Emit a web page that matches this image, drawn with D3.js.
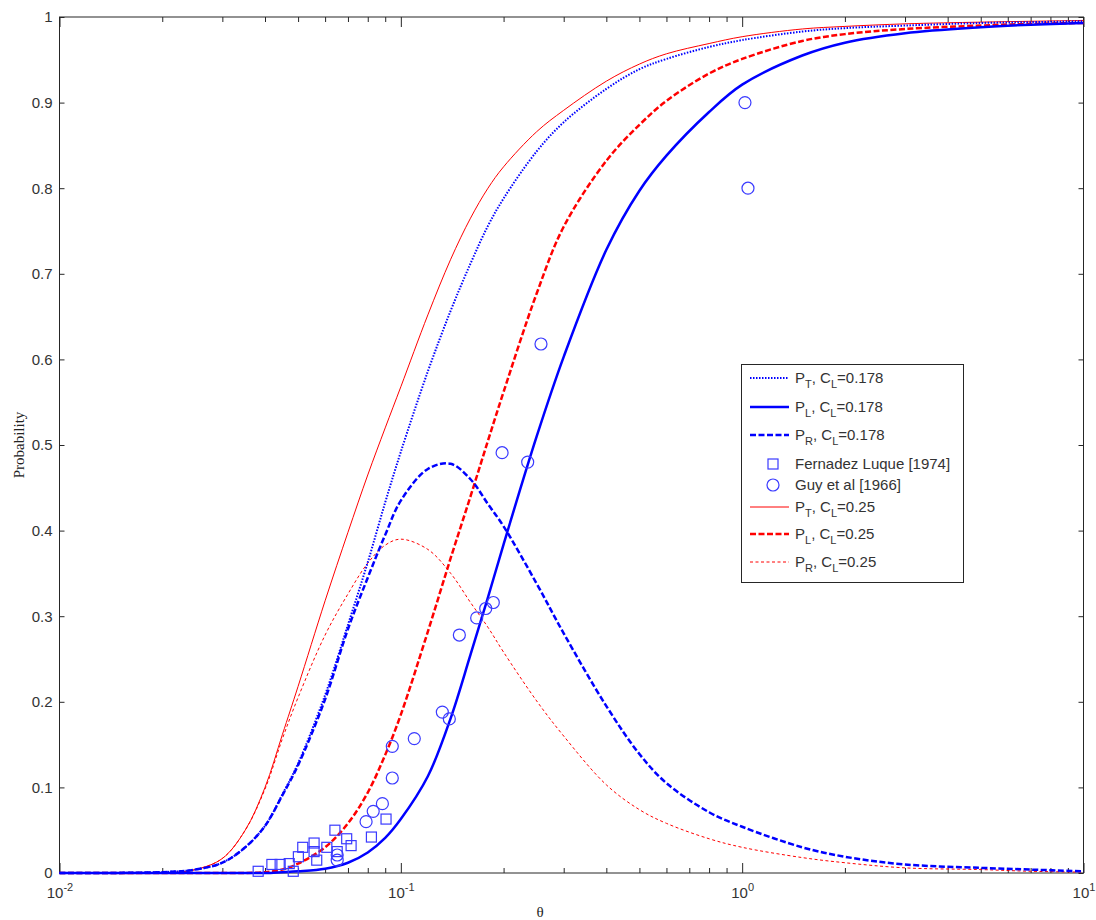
<!DOCTYPE html>
<html>
<head>
<meta charset="utf-8">
<script src="https://cdn.jsdelivr.net/npm/d3@7"></script>
<style>
  body { margin: 0; background: #fff; }
  svg { display: block; }
  .tick text { font-family: "Liberation Sans", Arial, sans-serif; font-size: 15px; fill: #333; }
  .tick line { stroke: #262626; }
</style>
</head>
<body>
<script>
// theta grid the curves were read at
var thetaGrid = [0.01,0.02,0.025,0.03,0.035,0.04,0.045,0.05,0.06,0.07,0.08,0.09,0.1,0.12,0.14,0.16,0.18,0.2,0.25,0.3,0.4,0.5,0.6,0.8,1,1.5,2,3,5,7,10];

// C_L = 0.178
var ptBlue = [0,0.001,0.004,0.012,0.03,0.055,0.092,0.128,0.208,0.29,0.363,0.433,0.492,0.586,0.657,0.712,0.756,0.788,0.843,0.877,0.916,0.939,0.951,0.965,0.973,0.983,0.987,0.99,0.993,0.994,0.995];
var plBlue = [0,0,0,0,0,0,0.001,0.002,0.005,0.012,0.024,0.041,0.063,0.113,0.181,0.255,0.322,0.384,0.51,0.603,0.728,0.797,0.838,0.889,0.921,0.955,0.97,0.981,0.988,0.991,0.993];
var prBlue = [0,0.001,0.004,0.012,0.03,0.055,0.091,0.126,0.203,0.285,0.345,0.395,0.435,0.472,0.478,0.46,0.431,0.405,0.338,0.28,0.195,0.139,0.105,0.071,0.054,0.03,0.019,0.01,0.006,0.004,0.002];

// C_L = 0.25
var ptRed = [0,0,0.004,0.017,0.05,0.10,0.162,0.218,0.318,0.398,0.465,0.52,0.568,0.652,0.717,0.765,0.80,0.825,0.866,0.891,0.925,0.945,0.957,0.969,0.977,0.986,0.989,0.992,0.994,0.995,0.996];
var plRed = [0,0,0,0,0,0.001,0.004,0.011,0.03,0.058,0.094,0.138,0.185,0.282,0.368,0.44,0.505,0.562,0.677,0.755,0.832,0.874,0.902,0.934,0.951,0.972,0.98,0.986,0.99,0.992,0.993];
var prRed = [0,0,0.004,0.017,0.05,0.098,0.157,0.205,0.278,0.326,0.362,0.383,0.39,0.378,0.35,0.316,0.287,0.258,0.201,0.16,0.103,0.074,0.058,0.04,0.03,0.018,0.012,0.006,0.004,0.002,0.001];

// measured points
var luqueTheta = [0.0382,0.0419,0.0443,0.0471,0.0484,0.0501,0.0516,0.0557,0.0557,0.0567,0.0607,0.0641,0.0651,0.0694,0.0715,0.0820,0.0905];
var luqueP     = [0.002,0.010,0.010,0.011,0.002,0.019,0.030,0.035,0.025,0.015,0.030,0.050,0.025,0.040,0.032,0.042,0.063];

var guyTheta = [0.0651,0.0651,0.0791,0.0830,0.0883,0.0944,0.0944,0.1095,0.1323,0.1387,0.1484,0.1668,0.1773,0.1866,0.198,0.2353,0.2574,1.019,1.040];
var guyP     = [0.021,0.015,0.060,0.072,0.081,0.111,0.148,0.157,0.188,0.180,0.278,0.298,0.309,0.316,0.491,0.480,0.618,0.900,0.800];

var yTicks = [0,0.1,0.2,0.3,0.4,0.5,0.6,0.7,0.8,0.9,1];
var yTickLabels = ['0','0.1','0.2','0.3','0.4','0.5','0.6','0.7','0.8','0.9','1'];
var xMajor = [0.01,0.1,1,10];
var xMajorExp = ['-2','-1','0','1'];

var BLUE = '#0000ff';
var RED = '#ff0000';

var W = 1096, H = 920;
var LEFT = 59.5, RIGHT = 1083.5, TOP = 17, BOTTOM = 873;

var svg = d3.select('body').append('svg').attr('width', W).attr('height', H);

var x = d3.scaleLog().domain([0.01, 10]).range([LEFT, RIGHT]);
var y = d3.scaleLinear().domain([0, 1]).range([BOTTOM, TOP]);

var xMinor = [];
[0.01, 0.1, 1].forEach(function (d) {
    for (var k = 2; k <= 9; k++) xMinor.push(d * k);
});

// minor ticks bottom/top
svg.append('g').attr('transform', 'translate(0,' + BOTTOM + ')')
    .call(d3.axisBottom(x).tickValues(xMinor).tickSize(-5).tickFormat(''));
svg.append('g').attr('transform', 'translate(0,' + TOP + ')')
    .call(d3.axisTop(x).tickValues(xMinor).tickSize(-5).tickFormat(''));
// major ticks
var xAx = svg.append('g').attr('transform', 'translate(0,' + BOTTOM + ')')
    .call(d3.axisBottom(x).tickValues(xMajor).tickSize(-10).tickFormat(''));
svg.append('g').attr('transform', 'translate(0,' + TOP + ')')
    .call(d3.axisTop(x).tickValues(xMajor).tickSize(-10).tickFormat(''));

xAx.selectAll('.tick text').each(function (d, i) {
    var t = d3.select(this);
    t.attr('y', 25).attr('dy', null).attr('text-anchor', 'middle');
    t.append('tspan').text('10');
    t.append('tspan').attr('font-size', '11px').attr('dy', -7).text(xMajorExp[i]);
});

svg.append('g').attr('transform', 'translate(' + LEFT + ',0)')
    .call(d3.axisLeft(y).tickValues(yTicks).tickSize(-5).tickPadding(7)
        .tickFormat(function (d, i) { return yTickLabels[i]; }));
svg.append('g').attr('transform', 'translate(' + RIGHT + ',0)')
    .call(d3.axisRight(y).tickValues(yTicks).tickSize(-5).tickFormat(''));

svg.selectAll('.domain').remove();

svg.append('rect')
    .attr('x', LEFT).attr('y', TOP)
    .attr('width', RIGHT - LEFT).attr('height', BOTTOM - TOP)
    .attr('fill', 'none').attr('stroke', '#262626').attr('stroke-width', 1);

// curves
var series = [
    {vals: prRed, color: RED, width: 1, dash: '3,2.5'},
    {vals: ptRed, color: RED, width: 1, dash: null},
    {vals: plRed, color: RED, width: 2.5, dash: '6,2.5'},
    {vals: prBlue, color: BLUE, width: 2.5, dash: '6,2.5'},
    {vals: ptBlue, color: BLUE, width: 2, dash: '1.5,1.5'},
    {vals: plBlue, color: BLUE, width: 2.5, dash: null}
];

var line = d3.line()
    .x(function (d) { return x(d[0]); })
    .y(function (d) { return y(d[1]); })
    .curve(d3.curveCatmullRom.alpha(0.5));

var plot = svg.append('g');

series.forEach(function (s) {
    var pts = thetaGrid.map(function (t, i) { return [t, s.vals[i]]; });
    plot.append('path')
        .attr('d', line(pts))
        .attr('fill', 'none')
        .attr('stroke', s.color)
        .attr('stroke-width', s.width)
        .attr('stroke-dasharray', s.dash);
});

// markers
var MARK = '#3a3aff';
plot.selectAll('rect.luque')
    .data(luqueTheta.map(function (t, i) { return [t, luqueP[i]]; }))
    .enter().append('rect')
    .attr('class', 'luque')
    .attr('x', function (d) { return x(d[0]) - 5; })
    .attr('y', function (d) { return y(d[1]) - 5; })
    .attr('width', 10).attr('height', 10)
    .attr('fill', 'none').attr('stroke', MARK).attr('stroke-width', 1.2);

plot.selectAll('circle.guy')
    .data(guyTheta.map(function (t, i) { return [t, guyP[i]]; }))
    .enter().append('circle')
    .attr('class', 'guy')
    .attr('cx', function (d) { return x(d[0]); })
    .attr('cy', function (d) { return y(d[1]); })
    .attr('r', 6)
    .attr('fill', 'none').attr('stroke', MARK).attr('stroke-width', 1.2);

// axis labels
svg.append('text')
    .attr('transform', 'translate(24,445) rotate(-90)')
    .attr('text-anchor', 'middle')
    .style('font-family', '"Liberation Serif", "Times New Roman", serif')
    .style('font-size', '15px').style('fill', '#222')
    .text('Probability');

svg.append('text')
    .attr('x', 540).attr('y', 917)
    .attr('text-anchor', 'middle')
    .style('font-family', '"Liberation Serif", "Times New Roman", serif')
    .style('font-size', '15px').style('fill', '#222')
    .text('θ');

// legend
var legend = [
    {kind: 'line', color: BLUE, width: 2, dash: '1.5,1.5', p: 'T', cl: '0.178', y: 378},
    {kind: 'line', color: BLUE, width: 2.5, dash: null, p: 'L', cl: '0.178', y: 407},
    {kind: 'line', color: BLUE, width: 2.5, dash: '6,2.5', p: 'R', cl: '0.178', y: 435},
    {kind: 'square', label: 'Fernadez Luque [1974]', y: 464},
    {kind: 'circle', label: 'Guy et al [1966]', y: 485},
    {kind: 'line', color: RED, width: 1, dash: null, p: 'T', cl: '0.25', y: 507},
    {kind: 'line', color: RED, width: 2.5, dash: '6,2.5', p: 'L', cl: '0.25', y: 534},
    {kind: 'line', color: RED, width: 1, dash: '3,2.5', p: 'R', cl: '0.25', y: 562}
];

var lg = svg.append('g');
lg.append('rect')
    .attr('x', 741.5).attr('y', 364.5).attr('width', 222).attr('height', 218)
    .attr('fill', '#fff').attr('stroke', '#262626').attr('stroke-width', 1);

legend.forEach(function (d) {
    if (d.kind == 'line') {
        lg.append('line')
            .attr('x1', 750).attr('x2', 789).attr('y1', d.y).attr('y2', d.y)
            .attr('stroke', d.color).attr('stroke-width', d.width)
            .attr('stroke-dasharray', d.dash);
    } else if (d.kind == 'square') {
        lg.append('rect').attr('x', 768).attr('y', d.y - 5).attr('width', 10).attr('height', 10)
            .attr('fill', 'none').attr('stroke', MARK).attr('stroke-width', 1.2);
    } else {
        lg.append('circle').attr('cx', 773).attr('cy', d.y).attr('r', 6)
            .attr('fill', 'none').attr('stroke', MARK).attr('stroke-width', 1.2);
    }
    var t = lg.append('text')
        .attr('x', 795).attr('y', d.y + 5)
        .style('font-family', '"Liberation Sans", Arial, sans-serif')
        .style('font-size', '15px').style('fill', '#333');
    if (d.kind == 'line') {
        t.append('tspan').text('P');
        t.append('tspan').attr('font-size', '11px').attr('dy', 5).text(d.p);
        t.append('tspan').attr('dy', -5).text(', C');
        t.append('tspan').attr('font-size', '11px').attr('dy', 5).text('L');
        t.append('tspan').attr('dy', -5).text('=' + d.cl);
    } else {
        t.text(d.label);
    }
});
</script>
</body>
</html>
